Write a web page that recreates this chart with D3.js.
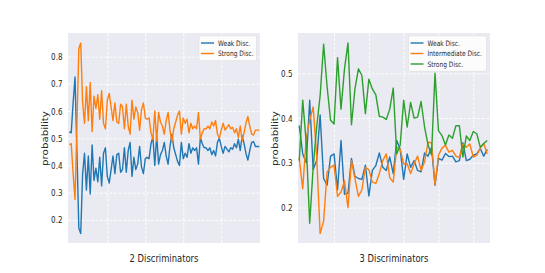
<!DOCTYPE html>
<meta charset="utf-8" />
<style>
  body { margin: 0; background: #fff; }
  text { font-family: "DejaVu Sans", sans-serif; fill: #262626; }
</style>
<svg width="545" height="273"></svg>
<script src="https://d3js.org/d3.v7.min.js"></script>
<script>
    // values
    var weak2 = [0.523, 0.52, 0.63, 0.725, 0.45, 0.17, 0.15, 0.37, 0.445, 0.31, 0.435, 0.295, 0.475, 0.345, 0.39, 0.34, 0.43, 0.325, 0.445, 0.465,
        0.36, 0.335, 0.385, 0.435, 0.37, 0.44, 0.445, 0.375, 0.385, 0.465, 0.375, 0.455, 0.485, 0.36, 0.43, 0.385, 0.405, 0.47, 0.395, 0.37,
        0.425, 0.43, 0.425, 0.48, 0.505, 0.4, 0.51, 0.405, 0.44, 0.455, 0.485, 0.435, 0.405, 0.47, 0.515, 0.465, 0.44, 0.415, 0.4, 0.485,
        0.425, 0.445, 0.43, 0.48, 0.445, 0.465, 0.455, 0.465, 0.405, 0.503, 0.48, 0.465, 0.465, 0.455, 0.465, 0.44, 0.455, 0.435, 0.485, 0.5,
        0.47, 0.445, 0.47, 0.46, 0.45, 0.465, 0.46, 0.48, 0.465, 0.497, 0.455, 0.51, 0.48, 0.445, 0.42, 0.455, 0.485, 0.488, 0.47, 0.47, 0.47];
    var strong2 = [0.477, 0.48, 0.37, 0.275, 0.55, 0.83, 0.85, 0.63, 0.555, 0.69, 0.565, 0.705, 0.525, 0.655, 0.61, 0.66, 0.57, 0.675, 0.555, 0.535,
        0.64, 0.665, 0.615, 0.565, 0.63, 0.56, 0.555, 0.625, 0.615, 0.535, 0.625, 0.545, 0.515, 0.64, 0.57, 0.615, 0.595, 0.53, 0.605, 0.63,
        0.575, 0.57, 0.575, 0.52, 0.495, 0.6, 0.49, 0.595, 0.56, 0.545, 0.515, 0.565, 0.595, 0.53, 0.485, 0.535, 0.56, 0.585, 0.6, 0.515,
        0.575, 0.555, 0.57, 0.52, 0.555, 0.535, 0.545, 0.535, 0.595, 0.497, 0.52, 0.535, 0.535, 0.545, 0.535, 0.56, 0.545, 0.565, 0.515, 0.5,
        0.53, 0.555, 0.53, 0.54, 0.55, 0.535, 0.54, 0.52, 0.535, 0.503, 0.545, 0.49, 0.52, 0.555, 0.58, 0.545, 0.515, 0.512, 0.53, 0.53, 0.53];

    var weak3 = [0.383, 0.32, 0.3, 0.44, 0.285, 0.305, 0.407, 0.265, 0.25, 0.315, 0.32, 0.24, 0.35, 0.23, 0.232, 0.31, 0.27, 0.265, 0.263, 0.295,
        0.226, 0.283, 0.294, 0.322, 0.29, 0.283, 0.313, 0.276, 0.35, 0.33, 0.263, 0.32, 0.29, 0.305, 0.283, 0.28, 0.322, 0.315, 0.335, 0.25,
        0.31, 0.306, 0.321, 0.314, 0.315, 0.302, 0.305, 0.345, 0.305, 0.308, 0.317, 0.32, 0.332, 0.315, 0.33];
    var inter3 = [0.31, 0.242, 0.355, 0.395, 0.425, 0.315, 0.142, 0.17, 0.28, 0.29, 0.295, 0.225, 0.235, 0.26, 0.2, 0.305, 0.265, 0.225, 0.24, 0.29,
        0.285, 0.257, 0.254, 0.276, 0.305, 0.32, 0.267, 0.257, 0.335, 0.33, 0.298, 0.298, 0.276, 0.298, 0.315, 0.283, 0.302, 0.346, 0.345, 0.251,
        0.317, 0.333, 0.339, 0.324, 0.328, 0.315, 0.312, 0.342, 0.335, 0.342, 0.313, 0.317, 0.333, 0.343, 0.32];
    var strong3 = [0.305, 0.44, 0.345, 0.165, 0.29, 0.38, 0.45, 0.565, 0.47, 0.395, 0.387, 0.535, 0.42, 0.51, 0.568, 0.385, 0.465, 0.51, 0.495, 0.41,
        0.487, 0.465, 0.452, 0.404, 0.402, 0.397, 0.42, 0.467, 0.32, 0.34, 0.44, 0.38, 0.435, 0.4, 0.402, 0.437, 0.38, 0.34, 0.318, 0.5,
        0.372, 0.361, 0.34, 0.362, 0.355, 0.383, 0.383, 0.313, 0.36, 0.35, 0.37, 0.365, 0.335, 0.343, 0.35];

    var yTicks2 = [0.2, 0.3, 0.4, 0.5, 0.6, 0.7, 0.8];
    var xGrid2 = [20, 40, 60, 80];
    var yTicks3 = [0.2, 0.3, 0.4, 0.5];
    var xGrid3 = [10, 20, 30, 40, 50];

    var blue = "#1f77b4", orange = "#ff7f0e", green = "#2ca02c";
    var sx = 0.8; // the picture is squeezed sideways, so is the text

    var svg = d3.select("svg");

    var panels = [
        {
            left: 68, right: 260, xDom: [-0.7, 100.4], yDom: [0.115, 0.887],
            yTicks: yTicks2, xGrid: xGrid2, title: "2 Discriminators",
            series: [
                { name: "Weak Disc.", values: weak2, color: blue },
                { name: "Strong Disc.", values: strong2, color: orange }
            ],
            legendW: 57.5
        },
        {
            left: 298, right: 490, xDom: [-0.36, 54.8], yDom: [0.121, 0.59],
            yTicks: yTicks3, xGrid: xGrid3, title: "3 Discriminators",
            series: [
                { name: "Weak Disc.", values: weak3, color: blue },
                { name: "Intermediate Disc.", values: inter3, color: orange },
                { name: "Strong Disc.", values: strong3, color: green }
            ],
            legendW: 78
        }
    ];
    var plotTop = 33, plotBottom = 243;

    panels.forEach(function(p) {
        var x = d3.scaleLinear().domain(p.xDom).range([p.left, p.right]);
        var y = d3.scaleLinear().domain(p.yDom).range([plotBottom, plotTop]);
        var g = svg.append("g");

        g.append("rect")
            .attr("x", p.left).attr("y", plotTop)
            .attr("width", p.right - p.left).attr("height", plotBottom - plotTop)
            .attr("fill", "#eaeaf2");

        // grid
        var gy = g.append("g")
            .attr("transform", "translate(" + p.left + ",0)")
            .call(d3.axisLeft(y).tickValues(p.yTicks).tickSize(-(p.right - p.left)).tickFormat(""));
        var gx = g.append("g")
            .attr("transform", "translate(0," + plotBottom + ")")
            .call(d3.axisBottom(x).tickValues(p.xGrid).tickSize(-(plotBottom - plotTop)).tickFormat(""));
        [gy, gx].forEach(function(a) {
            a.select(".domain").remove();
            a.selectAll("line")
                .attr("stroke", "#fff")
                .attr("stroke-width", 0.9)
                .attr("stroke-dasharray", "3,1.6");
        });

        // tick labels
        var ay = g.append("g")
            .attr("transform", "translate(" + p.left + ",0)")
            .call(d3.axisLeft(y).tickValues(p.yTicks).tickSize(0).tickFormat(d3.format(".1f")));
        ay.select(".domain").remove();
        ay.selectAll("text")
            .attr("x", -5.5 / sx)
            .attr("dy", "0.34em")
            .attr("transform", "scale(" + sx + ",1)")
            .style("font-family", "DejaVu Sans")
            .style("font-size", "9px")
            .attr("fill", "#262626");

        // lines
        var line = d3.line()
            .x(function(d, i) { return x(i); })
            .y(function(d) { return y(d); });
        p.series.forEach(function(s) {
            g.append("path")
                .datum(s.values)
                .attr("d", line)
                .attr("fill", "none")
                .attr("stroke", s.color)
                .attr("stroke-width", 1.4)
                .attr("stroke-linejoin", "round");
        });

        // axis labels
        var cx = (p.left + p.right) / 2;
        g.append("text")
            .attr("transform", "translate(" + cx + ",261.5) scale(" + sx + ",1)")
            .attr("text-anchor", "middle")
            .style("font-size", "10.5px")
            .text(p.title);
        g.append("text")
            .attr("transform", "translate(" + (p.left - 20.5) + "," + ((plotTop + plotBottom) / 2 + 0.5) + ") rotate(-90) scale(1," + sx + ")")
            .attr("text-anchor", "middle")
            .style("font-size", "10.3px")
            .text("probability");

        // legend
        var lx = p.right - 3.5 - p.legendW, ly = 35.8;
        var rowH = 10.5;
        var leg = g.append("g");
        leg.append("rect")
            .attr("x", lx).attr("y", ly)
            .attr("width", p.legendW).attr("height", p.series.length * rowH + 4)
            .attr("rx", 2)
            .attr("fill", "#fff").attr("fill-opacity", 0.85)
            .attr("stroke", "#dcdcdc").attr("stroke-width", 0.6);
        p.series.forEach(function(s, i) {
            var yy = ly + 7.2 + i * rowH;
            leg.append("line")
                .attr("x1", lx + 2).attr("x2", lx + 15)
                .attr("y1", yy).attr("y2", yy)
                .attr("stroke", s.color).attr("stroke-width", 1.4);
            leg.append("text")
                .attr("transform", "translate(" + (lx + 19) + "," + (yy + 2.6) + ") scale(" + sx + ",1)")
                .style("font-size", "7.4px")
                .text(s.name);
        });
    });
</script>
